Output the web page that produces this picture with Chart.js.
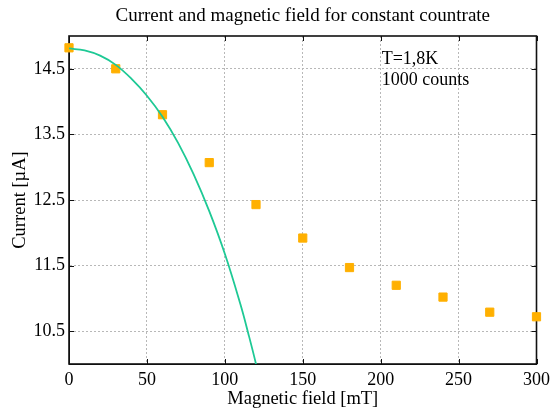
<!DOCTYPE html>
<html>
<head>
<meta charset="utf-8">
<script src="https://cdn.jsdelivr.net/npm/chart.js@4/dist/chart.umd.min.js"></script>
<style>
  html, body { margin: 0; padding: 0; background: #fff; }
  #wrap { width: 555px; height: 412px; }
</style>
</head>
<body>
<div id="wrap"><canvas id="fieldChart" width="555" height="412"></canvas></div>
<script>
// measured points: magnetic field [mT] vs current [uA]
const fieldValues = [0, 30, 60, 90, 120, 150, 180, 210, 240, 270, 300];
const currentValues = [14.82, 14.50, 13.80, 13.07, 12.43, 11.92, 11.47, 11.20, 11.02, 10.79, 10.72];

// fitted curve
const fitField = [0, 10, 20, 30, 40, 50, 60, 70, 80, 90, 100, 110, 115, 120, 125];
const fitCurrent = [14.81, 14.78, 14.70, 14.56, 14.35, 14.09, 13.77, 13.37, 12.89, 12.33, 11.68, 10.91, 10.47, 10.0, 9.47];

const xTicks = [0, 50, 100, 150, 200, 250, 300];
const yTicks = [10.5, 11.5, 12.5, 13.5, 14.5];

const serif = '"Liberation Serif", "Times New Roman", serif';

// frame, inward tick marks, title and note
const framePlugin = {
    id: 'frame',
    beforeDatasetsDraw(chart) {
        const { ctx, chartArea: a, scales } = chart;
        ctx.save();
        ctx.strokeStyle = '#111';
        ctx.lineWidth = 1;
        ctx.beginPath();
        xTicks.forEach(v => {
            const px = Math.round(scales.x.getPixelForValue(v)) + 0.5;
            ctx.moveTo(px, a.bottom); ctx.lineTo(px, a.bottom - 5);
            ctx.moveTo(px, a.top); ctx.lineTo(px, a.top + 5);
        });
        yTicks.forEach(v => {
            const py = Math.round(scales.y.getPixelForValue(v)) + 0.5;
            ctx.moveTo(a.left, py); ctx.lineTo(a.left + 5, py);
            ctx.moveTo(a.right, py); ctx.lineTo(a.right - 5, py);
        });
        ctx.stroke();
        ctx.lineWidth = 1.6;
        ctx.strokeRect(a.left, a.top, a.right - a.left, a.bottom - a.top);
        ctx.restore();
    },
    afterDraw(chart) {
        const { ctx, chartArea: a, scales } = chart;
        ctx.save();
        ctx.fillStyle = '#000';
        ctx.font = '19px ' + serif;
        ctx.textAlign = 'center';
        ctx.textBaseline = 'alphabetic';
        ctx.fillText('Current and magnetic field for constant countrate', (a.left + a.right) / 2, 21);
        ctx.textAlign = 'left';
        ctx.font = '18px ' + serif;
        const nx = scales.x.getPixelForValue(200) + 1;
        ctx.fillText('T=1,8K', nx, 64);
        ctx.fillText('1000 counts', nx, 85);
        ctx.restore();
    }
};

const gridOpts = {
    color: '#b8b8b8',
    lineWidth: 1,
    drawTicks: false
};
const borderOpts = { display: true, color: '#111', width: 1, dash: [2, 2] };

new Chart(document.getElementById('fieldChart'), {
    type: 'scatter',
    data: {
        datasets: [
            {
                label: 'fit',
                type: 'line',
                data: fitField.map((x, i) => ({ x: x, y: fitCurrent[i] })),
                borderColor: '#1ec995',
                borderWidth: 1.8,
                pointRadius: 0,
                tension: 0.4,
                fill: false,
                clip: 0
            },
            {
                label: 'data',
                data: fieldValues.map((x, i) => ({ x: x, y: currentValues[i] })),
                pointStyle: 'rect',
                pointRadius: 5.8,
                borderWidth: 1,
                backgroundColor: '#ffb000',
                borderColor: '#ffb000',
                clip: false
            }
        ]
    },
    options: {
        responsive: false,
        animation: false,
        devicePixelRatio: 1,
        layout: { padding: { left: 0, right: 16, top: 36, bottom: 0 } },
        plugins: {
            legend: { display: false },
            tooltip: { enabled: false },
            title: { display: false }
        },
        scales: {
            x: {
                type: 'linear',
                min: 0,
                max: 300,
                afterBuildTicks: axis => { axis.ticks = xTicks.map(v => ({ value: v })); },
                afterFit: scale => { scale.height = 48; },
                grid: gridOpts,
                border: borderOpts,
                ticks: {
                    padding: 5,
                    color: '#000',
                    font: { family: serif, size: 18 },
                    maxRotation: 0
                },
                title: {
                    display: true,
                    text: 'Magnetic field [mT]',
                    color: '#000',
                    font: { family: serif, size: 18.5 },
                    padding: { top: 0, bottom: 2 }
                }
            },
            y: {
                min: 10,
                max: 15,
                afterBuildTicks: axis => { axis.ticks = yTicks.map(v => ({ value: v })); },
                afterFit: scale => { scale.width = 69; },
                grid: gridOpts,
                border: borderOpts,
                ticks: {
                    padding: 4,
                    color: '#000',
                    font: { family: serif, size: 18 },
                    callback: v => v.toFixed(1)
                },
                title: {
                    display: true,
                    text: 'Current [µA]',
                    color: '#000',
                    font: { family: serif, size: 18.5 },
                    padding: { top: 9, bottom: 0 }
                }
            }
        }
    },
    plugins: [framePlugin]
});
</script>
</body>
</html>
